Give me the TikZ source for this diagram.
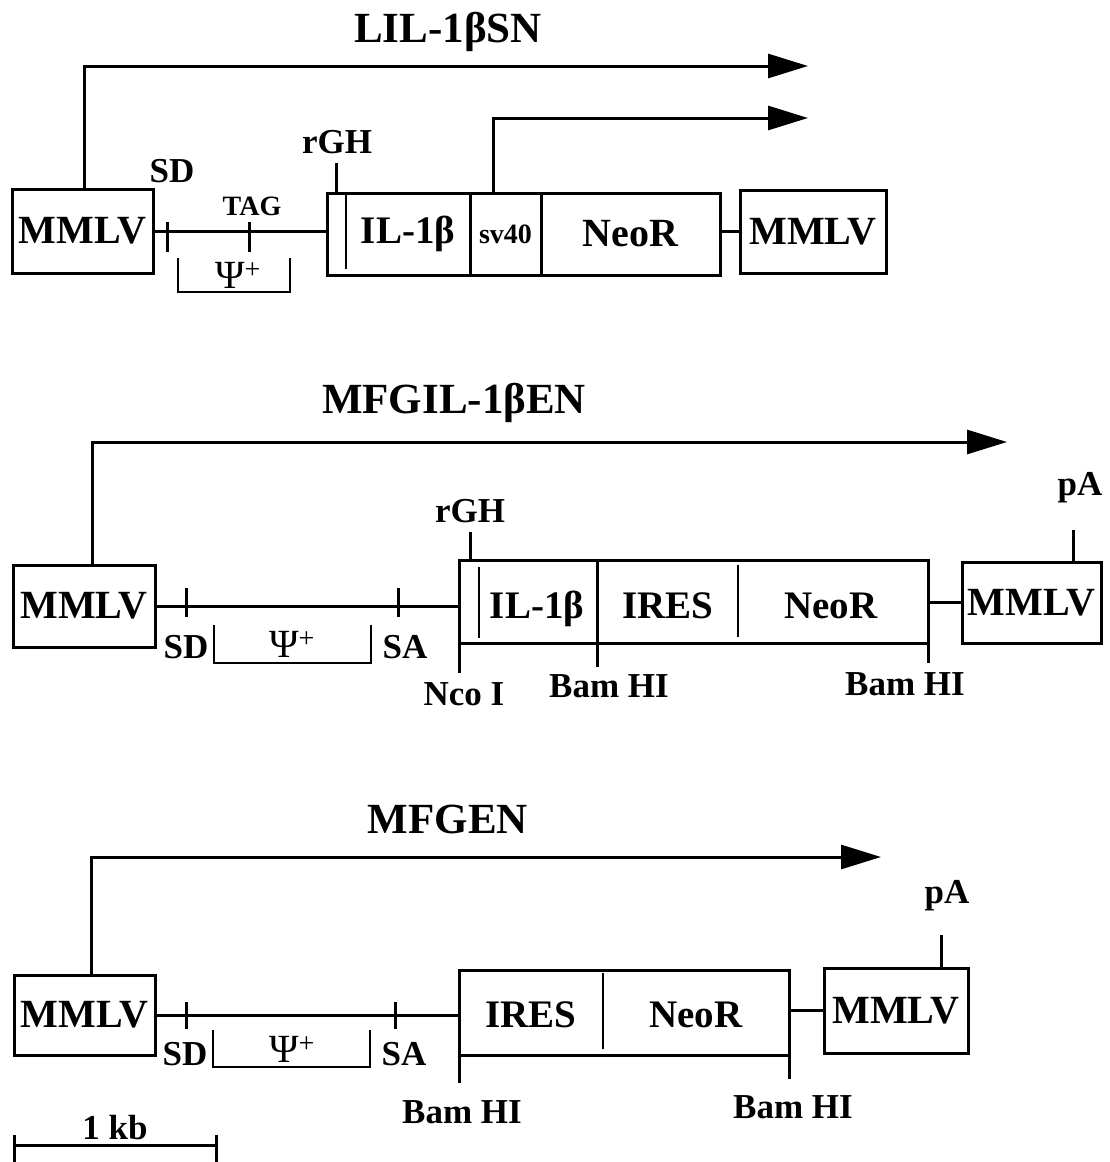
\documentclass[tikz,border=0pt]{standalone}
\usepackage{fontspec}
\setmainfont{Liberation Serif}
\usetikzlibrary{arrows.meta, calc}

\begin{document}
\begin{tikzpicture}[x=1pt, y=-1pt,
    box/.style 2 args={draw, line width=3pt, inner sep=0pt, outer sep=0pt,
        minimum width=#1, minimum height=#2, font=\fontsize{40}{44}\selectfont\bfseries},
    construct/.style={font=\fontsize{43}{48}\selectfont\bfseries, anchor=base, inner sep=0pt},
    lab/.style={font=\fontsize{35}{40}\selectfont\bfseries, anchor=base, inner sep=0pt},
    seglab/.style={font=\fontsize{39}{42}\selectfont\bfseries, anchor=base, inner sep=0pt},
    small/.style={font=\fontsize{28}{30}\selectfont\bfseries},
    psi/.style={font=\fontsize{40}{44}\selectfont, anchor=base, inner sep=0pt},
    backbone/.style={line width=3pt},
    site/.style={line width=3pt},
    divider/.style={line width=2.5pt},
    tx/.style={line width=3pt, -{Triangle[length=40pt, width=24pt]}}
]
\useasboundingbox (0,0) rectangle (1109,1162);

% LIL-1beta SN
\node[construct] (titleA) at (448,42) {LIL-1βSN};
\node[box={141pt}{84pt}] (mmlvA) at (82.5,231) {MMLV};
\node[box={143pt}{82pt}] (ilA) at (398.5,234) {};
\node[box={71pt}{82pt}, small] (svA) at (505.5,234) {sv40};
\node[box={179pt}{82pt}] (neoA) at (630.5,234) {NeoR};
\node[box={146pt}{83pt}] (mmlvB) at (813,231.5) {MMLV};
\node[seglab] (ilAlab) at (408,243) {IL-1β};

\coordinate (sdA) at (167,232);
\coordinate (tagAsite) at (249,232);
\coordinate (endA) at (808,66);
\coordinate (endB) at (808,118);

\draw[backbone] (mmlvA.east) -- (mmlvA.east -| ilA.west);
\draw[backbone] (neoA.east |- mmlvB.west) -- (mmlvB.west);
\draw[site] (sdA) ++(0,-10) -- ++(0,30);
\draw[site] (tagAsite) ++(0,-10) -- ++(0,30);
\draw[site] (ilA.north west) ++(9,0) -- ++(0,-30);
\draw[divider] (ilA.north west) ++(19,0) -- ++(0,76);
\draw[divider] (178,258) |- (290,292) -- (290,258);
\node[lab] (sdAlab) at (172,182) {SD};
\node[lab, small] (tagA) at (252,215) {TAG};
\node[lab] (rghA) at (337,153) {rGH};
\node[psi] (psiA) at (238,288) {Ψ\textsuperscript{+}};

\draw[tx] ([xshift=1.5pt]mmlvA.north) |- (endA);
\draw[tx] ([xshift=-12.5pt]svA.north) |- (endB);

% MFGIL-1beta EN
\node[construct] (titleB) at (454,413) {MFGIL-1βEN};
\node[box={142pt}{82pt}] (mmlvC) at (84,606) {MMLV};
\node[box={138pt}{83pt}] (ilC) at (528,601.5) {};
\node[box={331pt}{83pt}] (ireneoC) at (762.5,601.5) {};
\node[box={139pt}{81pt}] (mmlvD) at (1031.5,602.5) {MMLV};
\node[seglab] (ilClab) at (537,618) {IL-1β};
\node[seglab] (iresC) at (668,618) {IRES};
\node[seglab] (neoC) at (831,618) {NeoR};

\coordinate (sdC) at (186,603);
\coordinate (saC) at (398,603);
\coordinate (endC) at (1007,442);

\draw[backbone] (mmlvC.east) -- (mmlvC.east -| ilC.west);
\draw[backbone] (ireneoC.east |- mmlvD.west) -- (mmlvD.west);
\draw[site] (sdC) ++(0,-15) -- ++(0,29);
\draw[site] (saC) ++(0,-15) -- ++(0,29);
\draw[divider] (214,625) |- (371,663) -- (371,625);
\draw[site] (ilC.north west) ++(11,0) -- ++(0,-28);
\draw[divider] (ilC.north west) ++(20,7) -- ++(0,71);
\draw[divider] (ireneoC.north west) ++(141,5) -- ++(0,72);
\draw[site] (ilC.south west) -- ++(0,30);
\draw[site] (ilC.south east) -- ++(0,24);
\draw[site] (ireneoC.south east) -- ++(0,20);
\draw[site] (mmlvD.north) ++(41.5,0) -- ++(0,-32);
\node[lab] (sdClab) at (186,658) {SD};
\node[lab] (saClab) at (405,658) {SA};
\node[psi] (psiC) at (292,657) {Ψ\textsuperscript{+}};
\node[lab] (rghC) at (470,522) {rGH};
\node[lab] (ncoC) at (464,705) {Nco I};
\node[lab] (bamC) at (609,697) {Bam HI};
\node[lab] (bamD) at (905,695) {Bam HI};
\node[lab] (paD) at (1080,495) {pA};

\draw[tx] ([xshift=8pt]mmlvC.north) |- (endC);

% MFGEN
\node[construct] (titleE) at (448,833) {MFGEN};
\node[box={141pt}{80pt}] (mmlvE) at (84.5,1015) {MMLV};
\node[box={330pt}{85pt}] (ireneoE) at (624,1012.5) {};
\node[box={144pt}{85pt}] (mmlvF) at (896,1010.5) {MMLV};
\node[seglab] (iresE) at (531,1027) {IRES};
\node[seglab] (neoE) at (696,1027) {NeoR};

\coordinate (sdE) at (186,1017);
\coordinate (saE) at (395,1017);
\coordinate (endE) at (881,857);

\draw[backbone] (mmlvE.east) -- (mmlvE.east -| ireneoE.west);
\draw[backbone] (ireneoE.east |- mmlvF.west) -- (mmlvF.west);
\draw[site] (sdE) ++(0,-15) -- ++(0,27);
\draw[site] (saE) ++(0,-15) -- ++(0,27);
\draw[divider] (213,1030) |- (370,1067) -- (370,1030);
\draw[divider] (ireneoE.north west) ++(144,3) -- ++(0,76);
\draw[site] (ireneoE.south west) -- ++(0,28);
\draw[site] (ireneoE.south east) -- ++(0,24);
\draw[site] (mmlvF.north) ++(45,0) -- ++(0,-33);
\node[lab] (sdElab) at (185,1065) {SD};
\node[lab] (saElab) at (404,1065) {SA};
\node[psi] (psiE) at (292,1062) {Ψ\textsuperscript{+}};
\node[lab] (bamE) at (462,1123) {Bam HI};
\node[lab] (bamF) at (793,1118) {Bam HI};
\node[lab] (paF) at (947,903) {pA};

\draw[tx] ([xshift=6.5pt]mmlvE.north) |- (endE);

% scale bar
\coordinate (kbL) at (14,1145);
\coordinate (kbR) at (216,1145);
\draw[backbone] (kbL) -- (kbR);
\draw[site] (kbL) ++(0,-10) -- (14,1162);
\draw[site] (kbR) ++(0,-10) -- (216,1162);
\node[lab] (kb) at (115,1139) {1 kb};

\end{tikzpicture}
\end{document}
